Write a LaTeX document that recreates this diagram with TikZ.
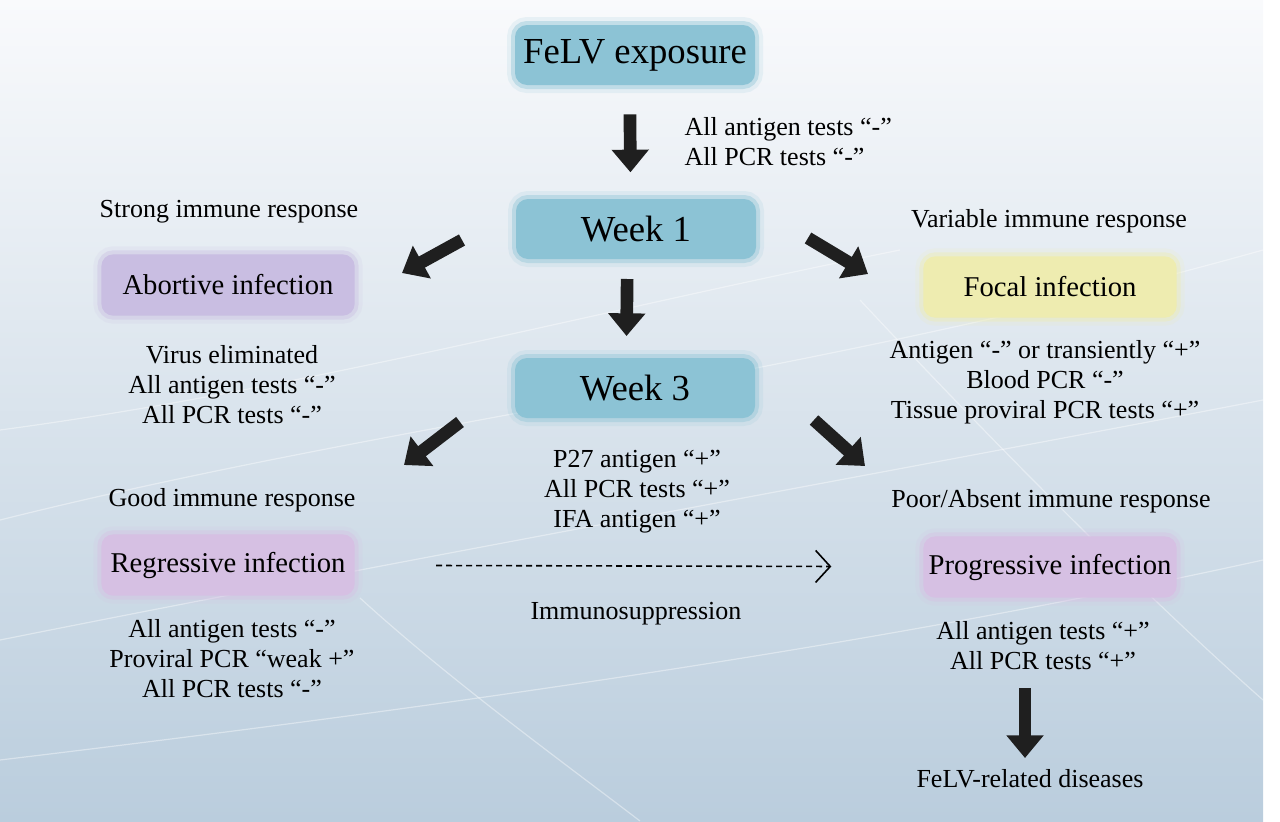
\documentclass[tikz,border=0pt]{standalone}
\usepackage{fontspec}
\setmainfont{Liberation Serif}
\usetikzlibrary{arrows.meta}
\definecolor{boxblue}{RGB}{140,195,213}
\definecolor{boxlilac}{RGB}{201,190,226}
\definecolor{boxpink}{RGB}{214,192,227}
\definecolor{boxyellow}{RGB}{238,236,176}
\definecolor{bgtop}{RGB}{249,250,252}
\definecolor{bgmid}{RGB}{226,234,241}
\definecolor{bgbot}{RGB}{186,205,221}
\tikzset{
  softbox/.style={rounded corners=9pt, fill=#1, draw=#1, draw opacity=0.4, line width=6pt,
    preaction={draw=#1, draw opacity=0.15, line width=12pt}},
  weekbox/.style={softbox=boxblue, minimum width=180pt, minimum height=45pt,
    font=\fontsize{27.5}{30}\selectfont},
  infbox/.style={softbox=#1, minimum width=190pt, minimum height=46pt,
    font=\fontsize{21.5}{24}\selectfont},
  note/.style={align=center, inner sep=1pt, font=\fontsize{19.5}{22.5}\selectfont},
  fatarrow/.style={line width=9.5pt, black!88, -{Triangle[width=27pt,length=17pt]}},
  dasharrow/.style={line width=1.2pt, dash pattern=on 4.5pt off 3pt,
    -{Straight Barb[length=11pt,width=24pt,line width=1.2pt]}},
  glint/.style={white, line width=0.9pt, opacity=0.4}
}
\begin{document}
\begin{tikzpicture}[x=0.75pt,y=-0.75pt]
\useasboundingbox (0,0) rectangle (1280,821);
\shade[top color=bgtop, middle color=bgmid, bottom color=bgbot] (0,0) rectangle (1263,821);
\draw[glint] (0,520) .. controls (400,420) and (800,380) .. (1263,250);
\draw[glint] (0,640) .. controls (400,560) and (900,470) .. (1263,400);
\draw[glint] (0,760) .. controls (500,700) and (900,640) .. (1263,560);
\draw[glint] (360,598) .. controls (450,680) and (560,760) .. (640,821);
\draw[glint] (860,300) .. controls (1000,450) and (1150,600) .. (1263,700);
\draw[glint] (0,430) .. controls (300,390) and (600,310) .. (900,250);

\node[weekbox] (expo) at (635,55) {FeLV exposure};
\node[weekbox] (week1) at (636,229) {Week 1};
\node[weekbox] (week3) at (635,388) {Week 3};
\node[infbox=boxlilac] (abort) at (228,285) {Abortive infection};
\node[infbox=boxyellow] (focal) at (1050,287) {Focal infection};
\node[infbox=boxpink] (regress) at (228,565) {Regressive infection};
\node[infbox=boxpink] (progress) at (1050,567) {Progressive infection};

\node[note, anchor=west, align=left] (week1Txt) at (683,142) {All antigen tests “-”\\All PCR tests “-”};
\node[note] (strong) at (229,212) {Strong immune response};
\node[note] (variable) at (1049,221) {Variable immune response};
\node[note] (abortTxt) at (232,385) {Virus eliminated\\All antigen tests “-”\\All PCR tests “-”};
\node[note] (focalTxt) at (1045,382) {Antigen “-” or transiently “+”\\Blood PCR “-”\\Tissue proviral PCR tests “+”};
\node[note] (week3Txt) at (637,492) {P27 antigen “+”\\All PCR tests “+”\\IFA antigen “+”};
\node[note] (good) at (232,500) {Good immune response};
\node[note] (poor) at (1051,501) {Poor/Absent immune response};
\node[note] (immuno) at (636,614) {Immunosuppression};
\node[note] (regressTxt) at (232,659) {All antigen tests “-”\\Proviral PCR “weak +”\\All PCR tests “-”};
\node[note] (progressTxt) at (1043,646) {All antigen tests “+”\\All PCR tests “+”};
\node[note] (diseases) at (1030,779) {FeLV-related diseases};

\coordinate (toAbortS) at (462,240);
\coordinate (toAbortE) at (402,273);
\coordinate (toFocalS) at (808,238);
\coordinate (toFocalE) at (868,274);
\coordinate (toRegS) at (460,422);
\coordinate (toRegE) at (404,465);
\coordinate (toProgS) at (814,420);
\coordinate (toProgE) at (865,466);
\coordinate (toDisS) at (1025,688);
\coordinate (toDisE) at (1025,758);

\draw[fatarrow, shorten <=19pt, shorten >=17pt] ([xshift=-4pt]expo.south) -- ([xshift=-4pt]week1.north);
\draw[fatarrow, shorten <=12pt, shorten >=13.5pt] ([xshift=-6.5pt]week1.south) -- ([xshift=-6.5pt]week3.north);
\draw[fatarrow] (toAbortS) -- (toAbortE);
\draw[fatarrow] (toFocalS) -- (toFocalE);
\draw[fatarrow] (toRegS) -- (toRegE);
\draw[fatarrow] (toProgS) -- (toProgE);
\draw[fatarrow] (toDisS) -- (toDisE);
\draw[dasharrow, shorten <=58pt, shorten >=66pt] (regress) -- (progress);
\end{tikzpicture}
\end{document}
